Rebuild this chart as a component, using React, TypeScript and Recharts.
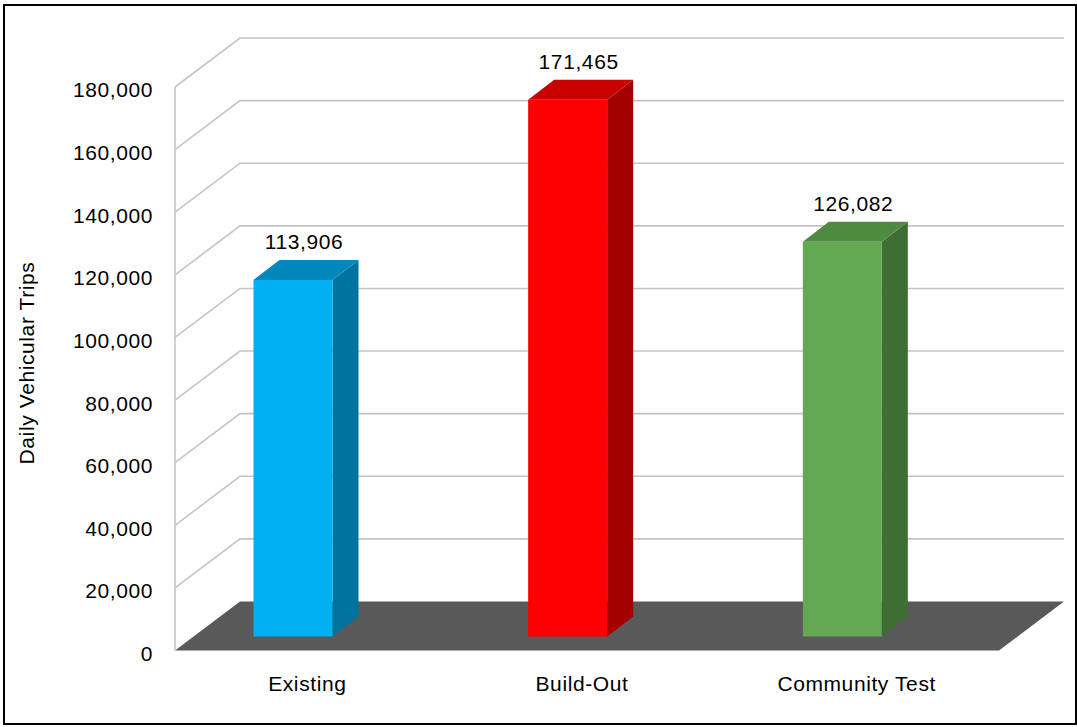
import { BarChart, Bar, XAxis, YAxis, CartesianGrid, Cell, LabelList } from 'recharts';

const categories = ['Existing', 'Build-Out', 'Community Test'];
const trips = [113906, 171465, 126082];
const yTicks = [0, 20000, 40000, 60000, 80000, 100000, 120000, 140000, 160000, 180000];

// front / top / side shades for each bar
const barColors = [
  { front: '#00B0F0', top: '#0088BC', side: '#00739E' },
  { front: '#FF0000', top: '#C80000', side: '#A50000' },
  { front: '#64A854', top: '#4E8A40', side: '#3F6E34' },
];

const data = categories.map((name, i) => ({ name, trips: trips[i] }));

const FONT = '"Liberation Sans", Arial, sans-serif';
const FLOOR_DX = 65;
const FLOOR_DY = -49;
const BAR_SHIFT_X = -19.5;
const BAR_SHIFT_Y = -14;
const BAR_DX = 26;
const BAR_DY = -20;

const fmt = (v: number) => v.toLocaleString('en-US');

// wall gridlines + dark floor
const gridLine = (p: any) => {
  const bottom = (p.y ?? 0) + (p.height ?? 0);
  if (Math.abs(p.y1 - bottom) < 1) {
    const pts = [
      [p.x1, p.y1],
      [p.x2, p.y1],
      [p.x2 + FLOOR_DX, p.y1 + FLOOR_DY],
      [p.x1 + FLOOR_DX, p.y1 + FLOOR_DY],
    ].map((q) => q.join(',')).join(' ');
    return <polygon key={p.key} points={pts} fill="#595959" />;
  }
  const d = `M${p.x1},${p.y1} L${p.x1 + FLOOR_DX},${p.y1 + FLOOR_DY} L${p.x2 + FLOOR_DX},${p.y1 + FLOOR_DY}`;
  return <path key={p.key} d={d} stroke="#C4C4C4" strokeWidth={1.6} fill="none" />;
};

const Bar3D = (p: any) => {
  const { x, y, width: w, height: h, index } = p;
  const c = barColors[index];
  const fx = x + BAR_SHIFT_X;
  const fy = y + BAR_SHIFT_Y;
  const top = `${fx},${fy} ${fx + w},${fy} ${fx + w + BAR_DX},${fy + BAR_DY} ${fx + BAR_DX},${fy + BAR_DY}`;
  const side = `${fx + w},${fy} ${fx + w + BAR_DX},${fy + BAR_DY} ${fx + w + BAR_DX},${fy + h + BAR_DY} ${fx + w},${fy + h}`;
  return (
    <g>
      <polygon points={side} fill={c.side} />
      <polygon points={top} fill={c.top} />
      <rect x={fx} y={fy} width={w} height={h} fill={c.front} />
    </g>
  );
};

const ValueLabel = (p: any) => {
  const { x, y, width, value } = p;
  return (
    <text
      x={x + width / 2 - 8.5}
      y={y - 45}
      textAnchor="middle"
      fontFamily={FONT}
      fontSize={21}
      letterSpacing={0.6}
      fill="#000"
    >
      {fmt(value)}
    </text>
  );
};

const AxisTitle = () => (
  <text
    x={26}
    y={363}
    transform="rotate(-90, 26, 363)"
    textAnchor="middle"
    dominantBaseline="central"
    fontFamily={FONT}
    fontSize={21}
    letterSpacing={0.6}
    fill="#000"
  >
    Daily Vehicular Trips
  </text>
);

export default function App() {
  return (
    <div style={{ position: 'absolute', left: 0, top: 0, width: 1077, height: 727, background: '#fff' }}>
      <div
        style={{
          position: 'absolute', left: 3, top: 4, width: 1074, height: 721,
          border: '2px solid #000', boxSizing: 'border-box',
        }}
      />
      <BarChart
        width={1077}
        height={727}
        data={data}
        margin={{ top: 87, right: 78, bottom: 36.5, left: 0 }}
        style={{ position: 'absolute', left: 0, top: 0 }}
      >
        <CartesianGrid vertical={false} horizontal={gridLine} />
        <XAxis
          dataKey="name"
          axisLine={false}
          tickLine={false}
          height={40}
          tickMargin={20}
          dx={-5}
          tick={{ fill: '#000', fontSize: 21, fontFamily: FONT, letterSpacing: 0.6 }}
        />
        <YAxis
          width={175}
          domain={[0, 180000]}
          ticks={yTicks}
          interval={0}
          tickFormatter={fmt}
          tickLine={false}
          tickMargin={16}
          axisLine={{ stroke: '#C4C4C4', strokeWidth: 1.6 }}
          tick={{ fill: '#000', fontSize: 21, fontFamily: FONT, letterSpacing: 0.6, dy: 3 }}
          label={<AxisTitle />}
        />
        <Bar dataKey="trips" barSize={79} shape={Bar3D} isAnimationActive={false}>
          {data.map((d, i) => (
            <Cell key={d.name} fill={barColors[i].front} />
          ))}
          <LabelList dataKey="trips" content={ValueLabel} />
        </Bar>
      </BarChart>
    </div>
  );
}
